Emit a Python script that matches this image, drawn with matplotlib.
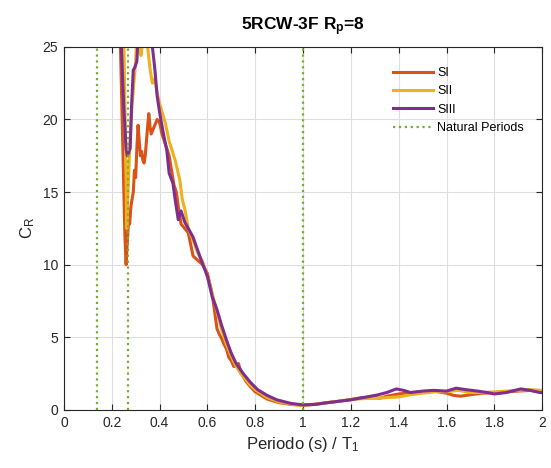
import matplotlib
matplotlib.use("Agg")
import matplotlib.pyplot as plt

plt.rcParams['font.family'] = ['Liberation Sans', 'DejaVu Sans']
plt.rcParams['mathtext.fontset'] = 'custom'
plt.rcParams['mathtext.rm'] = 'Liberation Sans'
plt.rcParams['mathtext.it'] = 'Liberation Sans'
plt.rcParams['mathtext.bf'] = 'Liberation Sans:bold'

# ---- data ----
si_x = [0.235, 0.245, 0.255, 0.26, 0.265, 0.27, 0.275, 0.28, 0.285, 0.29, 0.295, 0.30, 0.305, 0.31,
        0.315, 0.32, 0.325, 0.33, 0.335, 0.34, 0.345, 0.35, 0.355, 0.36, 0.365, 0.37, 0.38, 0.39,
        0.40, 0.41, 0.42, 0.43, 0.44, 0.45, 0.46, 0.47, 0.48, 0.49, 0.50, 0.51, 0.52, 0.54, 0.56,
        0.58, 0.60, 0.62, 0.64, 0.65, 0.66, 0.67, 0.68, 0.69, 0.70, 0.71, 0.72, 0.73, 0.74, 0.76,
        0.78, 0.80, 0.85, 0.90, 0.95, 1.0, 1.05, 1.1, 1.15, 1.2, 1.25, 1.3, 1.32, 1.35, 1.4, 1.45,
        1.5, 1.55, 1.6, 1.63, 1.66, 1.7, 1.75, 1.8, 1.85, 1.9, 1.95, 2.0]
si_y = [26, 19, 12, 10, 11.5, 13, 12.8, 14, 14.5, 15, 16.5, 16, 18, 19.6,
        18.5, 17.5, 17.8, 17.2, 17.0, 17.5, 18.5, 19.5, 20.4, 19.5, 19.0, 19.2, 19.6, 20.0,
        19.8, 19.0, 18.5, 18.0, 17.5, 16.5, 15.5, 15.0, 13.8, 12.8, 12.6, 12.4, 12.2, 10.6, 10.3,
        10.0, 9.4, 8.0, 5.6, 5.2, 4.9, 4.5, 4.2, 3.6, 3.4, 3.0, 3.0, 3.2, 2.6, 2.0,
        1.6, 1.25, 0.75, 0.5, 0.38, 0.32, 0.4, 0.5, 0.6, 0.72, 0.85, 0.85, 0.8, 0.95, 1.1, 1.2,
        1.25, 1.3, 1.15, 1.0, 0.95, 1.05, 1.15, 1.2, 1.25, 1.3, 1.35, 1.25]

sii_x = [0.25, 0.258, 0.263, 0.268, 0.275, 0.285, 0.29, 0.30, 0.305, 0.315, 0.322, 0.33, 0.34,
         0.35, 0.36, 0.37, 0.38, 0.39, 0.40, 0.41, 0.42, 0.43, 0.44, 0.45, 0.465, 0.475, 0.485,
         0.495, 0.506, 0.52, 0.54, 0.56, 0.58, 0.60, 0.62, 0.64, 0.66, 0.68, 0.70, 0.72, 0.74,
         0.76, 0.78, 0.80, 0.85, 0.90, 0.95, 1.0, 1.05, 1.1, 1.15, 1.2, 1.25, 1.3, 1.35, 1.4,
         1.45, 1.5, 1.55, 1.6, 1.65, 1.7, 1.75, 1.8, 1.85, 1.9, 1.95, 2.0]
sii_y = [26, 18, 12.5, 15, 18, 21, 22, 24, 26, 27, 24.4, 25.5, 26,
         25, 23.5, 22.5, 22.8, 21.8, 21.1, 20.5, 20.0, 19.3, 18.5, 18.0, 17.2, 16.5, 15.8,
         14.5, 13.8, 12.5, 11.7, 10.8, 10.2, 9.2, 8.0, 6.8, 5.5, 4.5, 3.7, 3.0, 2.5,
         2.1, 1.7, 1.4, 0.85, 0.55, 0.4, 0.32, 0.38, 0.5, 0.6, 0.72, 0.78, 0.8, 0.85, 0.9,
         1.05, 1.15, 1.25, 1.25, 1.35, 1.2, 1.2, 1.25, 1.3, 1.35, 1.4, 1.35]

siii_x = [0.238, 0.245, 0.25, 0.255, 0.26, 0.265, 0.27, 0.277, 0.283, 0.29, 0.297, 0.305, 0.31,
          0.32, 0.34, 0.36, 0.37, 0.38, 0.39, 0.40, 0.415, 0.43, 0.44, 0.456, 0.465, 0.478,
          0.49, 0.506, 0.52, 0.54, 0.57, 0.60, 0.62, 0.64, 0.66, 0.68, 0.70, 0.72, 0.75, 0.78,
          0.81, 0.85, 0.89, 0.95, 1.0, 1.05, 1.1, 1.15, 1.2, 1.25, 1.31, 1.35, 1.39, 1.42, 1.45,
          1.5, 1.545, 1.6, 1.64, 1.68, 1.73, 1.77, 1.8, 1.85, 1.91, 1.95, 1.99, 2.0]
siii_y = [26, 23, 21, 19.5, 18, 17.5, 17.7, 18, 21, 23.4, 23.6, 24, 25.5,
          27, 27, 26.5, 25, 23.5, 21.6, 20.5, 19.1, 17.9, 16.3, 15.6, 14.5, 13.1,
          13.7, 12.9, 12.5, 11.9, 10.5, 9.2, 7.8, 6.9, 5.8, 4.8, 3.9, 3.2, 2.5, 1.9,
          1.4, 1.0, 0.7, 0.45, 0.35, 0.38, 0.5, 0.6, 0.7, 0.85, 1.03, 1.2, 1.45, 1.35, 1.2,
          1.3, 1.35, 1.3, 1.5, 1.4, 1.3, 1.2, 1.1, 1.2, 1.45, 1.35, 1.2, 1.2]

natural_periods = [0.139, 0.266, 1.0]

series_labels = ['SI', 'SII', 'SIII']
series_colors = ['#D95319', '#EDB120', '#7E2F8E']

fig = plt.figure(figsize=(5.51, 4.68), dpi=100)
ax = fig.add_axes([0.116, 0.124, 0.868, 0.776])

for xs, ys, lab, col in zip([si_x, sii_x, siii_x], [si_y, sii_y, siii_y], series_labels, series_colors):
    ax.plot(xs, ys, color=col, lw=2.2, label=lab)

for i, p in enumerate(natural_periods):
    ax.axvline(p, color='#77AC30', ls=':', lw=1.6, label='Natural Periods' if i == 0 else None)

ax.set_xlim(0, 2)
ax.set_ylim(0, 25)
ax.set_xticks([0, 0.2, 0.4, 0.6, 0.8, 1, 1.2, 1.4, 1.6, 1.8, 2])
ax.set_xticklabels(['0', '0.2', '0.4', '0.6', '0.8', '1', '1.2', '1.4', '1.6', '1.8', '2'])
ax.set_yticks([0, 5, 10, 15, 20, 25])
ax.grid(True, color='#dedede', lw=0.8)
ax.set_axisbelow(True)
ax.tick_params(direction='in', top=True, right=True, labelsize=10, colors='#262626',
               length=4, width=0.8, pad=4)
for s in ax.spines.values():
    s.set_color('#262626')
    s.set_linewidth(0.8)

ax.set_xlabel('Periodo (s) / T$_1$', fontsize=12, color='#262626')
ax.set_ylabel('C$_R$', fontsize=12, color='#262626')
ax.set_title(r'5RCW-3F R$_\mathbf{p}$=8', fontsize=12.5, fontweight='bold', color='#000000', pad=12)

leg = ax.legend(loc='upper right', bbox_to_anchor=(0.985, 0.975), frameon=False, fontsize=9,
                handlelength=3.2, handletextpad=0.3, labelspacing=0.5)

fig.savefig('out.png', dpi=100)
